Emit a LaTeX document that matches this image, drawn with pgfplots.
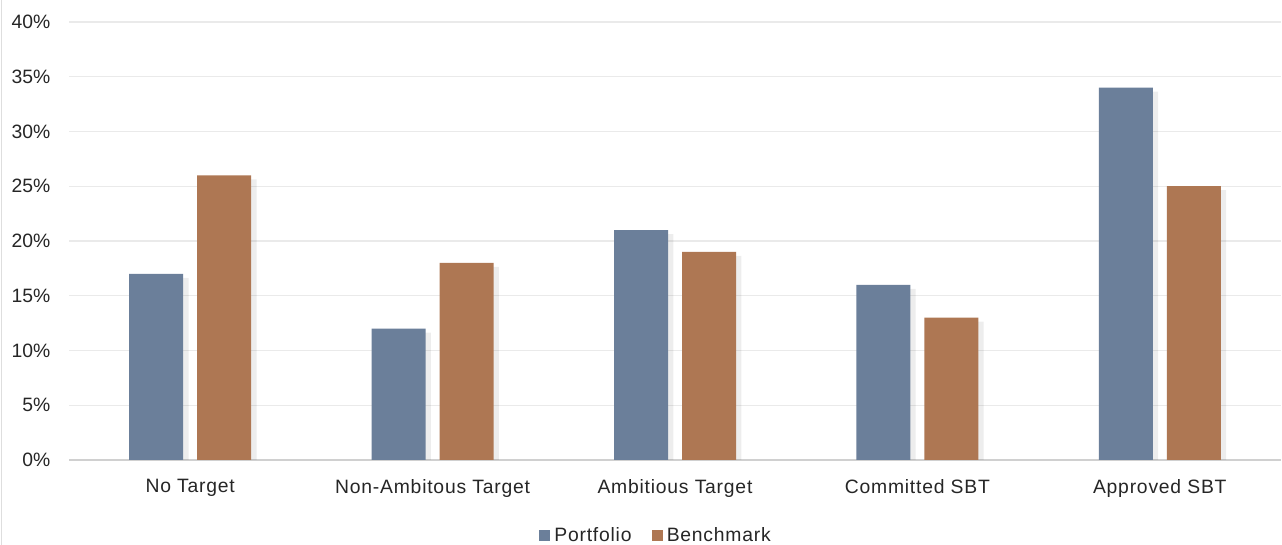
\documentclass[border=0pt]{standalone}
\usepackage{fontspec}
\setmainfont{Liberation Sans}
\newfontfamily\widesans{Liberation Sans}[LetterSpace=4]
\usepackage{pgfplots}
\pgfplotsset{compat=1.18}
\usetikzlibrary{shadows}
\definecolor{port}{HTML}{6B7F9A}
\definecolor{bench}{HTML}{AE7753}
\definecolor{gridc}{HTML}{EAEAEA}
\definecolor{basec}{HTML}{D0D0D0}
\begin{document}
\begin{tikzpicture}[x=1pt,y=1pt]
\path[use as bounding box] (0,0) rectangle (961.5,408.75);
\fill[white] (0,0) rectangle (961.5,408.75);
\draw[basec!70, line width=0.75pt] (0.75,0) -- (0.75,408.75);
\begin{axis}[
 at={(51.75pt,63.75pt)}, anchor=south west,
 scale only axis, width=909pt, height=328.5pt,
 xmin=-0.5, xmax=4.5, ymin=0, ymax=40,
 ybar=10.5pt, bar width=40.5pt,
 xtick={0,...,4},
 xticklabels={No Target, Non-Ambitous Target, Ambitious Target, Committed SBT, Approved SBT},
 ytick={0,5,...,40},
 yticklabel={\pgfmathprintnumber{\tick}\%},
 /pgf/number format/assume math mode=true,
 ymajorgrids, grid style={draw=gridc, line width=0.9pt},
 axis x line*=bottom, axis y line*=left,
 x axis line style={draw=basec, line width=1pt, -},
 y axis line style={draw=none},
 major tick length=0pt,
 yticklabel style={font=\fontsize{14.5}{17}\selectfont, text=black!85, xshift=-10.5pt},
 xticklabel style={font=\widesans\fontsize{14.5}{17}\selectfont, text=black!85, yshift=-11pt},
 legend entries={Portfolio, Benchmark},
 legend columns=2,
 legend style={draw=none, fill=none, at={(0.5,0)}, anchor=center, yshift=-56.25pt, xshift=-14pt,
   font=\widesans\fontsize{14.5}{17}\selectfont, text=black!85,
   /tikz/every even column/.append style={column sep=13pt}},
]
\addlegendimage{legend image code/.code={\fill[port] (0pt,-3.75pt) rectangle (7.5pt,3.75pt); \path (9pt,0pt);}}
\addlegendimage{legend image code/.code={\fill[bench] (0pt,-3.75pt) rectangle (7.5pt,3.75pt); \path (9pt,0pt);}}
\addplot[fill=port, draw=none, preaction={fill=black, fill opacity=0.07, transform canvas={xshift=4pt, yshift=-3pt}}] coordinates {(0,17) (1,12) (2,21) (3,16) (4,34)};
\addplot[fill=bench, draw=none, preaction={fill=black, fill opacity=0.07, transform canvas={xshift=4pt, yshift=-3pt}}] coordinates {(0,26) (1,18) (2,19) (3,13) (4,25)};
\end{axis}
\end{tikzpicture}
\end{document}
